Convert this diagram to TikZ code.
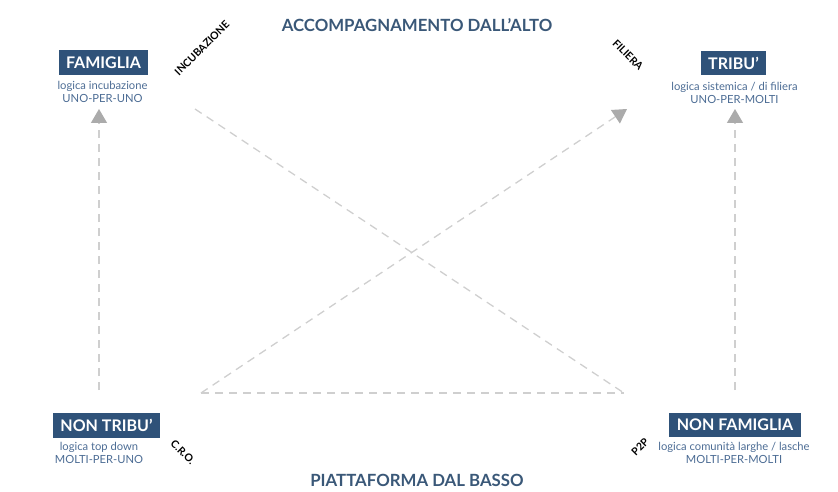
\documentclass[tikz,border=0pt]{standalone}
\usepackage{fontspec}
\setmainfont{Lato}
\usetikzlibrary{arrows.meta}
\definecolor{boxblue}{HTML}{2F5279}
\definecolor{titleblue}{HTML}{3A5878}
\definecolor{subblue}{HTML}{4C6C94}
\definecolor{lineg}{HTML}{CFCFCF}
\definecolor{headg}{HTML}{ABABAB}
\tikzset{
  boxlabel/.style={fill=boxblue, text=white, font=\fontsize{16}{16}\selectfont\bfseries, minimum height=24.5pt, inner xsep=7.5pt, inner ysep=0pt},
  sublabel/.style={text=subblue, font=\fontsize{11.2}{12.5}\selectfont, align=center, inner sep=0pt},
  titlelabel/.style={text=titleblue, font=\fontsize{16.8}{16.8}\selectfont\bfseries, inner sep=0pt},
  rotlabel/.style={text=black, font=\fontsize{10.5}{10.5}\selectfont\bfseries, inner sep=0pt},
  dashline/.style={draw=lineg, line width=1.3pt, dash pattern=on 8pt off 6pt},
  headarrow/.style={dashline, -{Triangle[width=16pt,length=14pt,color=headg,fill=headg]}}
}
\begin{document}
\begin{tikzpicture}[x=1pt,y=-1pt]
\useasboundingbox (0,0) rectangle (838,492);
% titles
\node[titlelabel] (top) at (417,25) {ACCOMPAGNAMENTO DALL’ALTO};
\node[titlelabel] (bot) at (417,480) {PIATTAFORMA DAL BASSO};
% boxes
\node[boxlabel] (fam) at (103.5,62.5) {FAMIGLIA};
\node[sublabel] (famsub) at (102.5,92) {logica incubazione\\UNO-PER-UNO};
\node[boxlabel] (tri) at (733.5,63) {TRIBU’};
\node[sublabel] (trisub) at (734.5,93) {logica sistemica / di filiera\\UNO-PER-MOLTI};
\node[boxlabel] (ntri) at (106.5,425.5) {NON TRIBU’};
\node[sublabel] (ntrisub) at (99,453) {logica top down\\MOLTI-PER-UNO};
\node[boxlabel] (nfam) at (735,425) {NON FAMIGLIA};
\node[sublabel] (nfamsub) at (734,453) {logica comunità larghe / lasche\\MOLTI-PER-MOLTI};
% rotated labels
\node[rotlabel, rotate=45] (inc) at (202,48) {INCUBAZIONE};
\node[rotlabel, rotate=-45] (fil) at (628,55) {FILIERA};
\node[rotlabel, rotate=-45] (cro) at (183,452) {C.R.O.};
\node[rotlabel, rotate=45] (p2p) at (640,447) {P2P};
% connector ends
\coordinate (lb) at (99,390);
\coordinate (lt) at (99,109);
\coordinate (rb) at (735,390);
\coordinate (rt) at (735,109);
\coordinate (bl) at (201,393);
\coordinate (br) at (624,393);
\coordinate (dt) at (627,109);
\coordinate (ul) at (195,109);
% connectors
\draw[headarrow] (lb) -- (lt);
\draw[headarrow] (rb) -- (rt);
\draw[headarrow] (bl) -- (dt);
\draw[dashline] (ul) -- (br);
\draw[dashline] (bl) -- (br);
\end{tikzpicture}
\end{document}
